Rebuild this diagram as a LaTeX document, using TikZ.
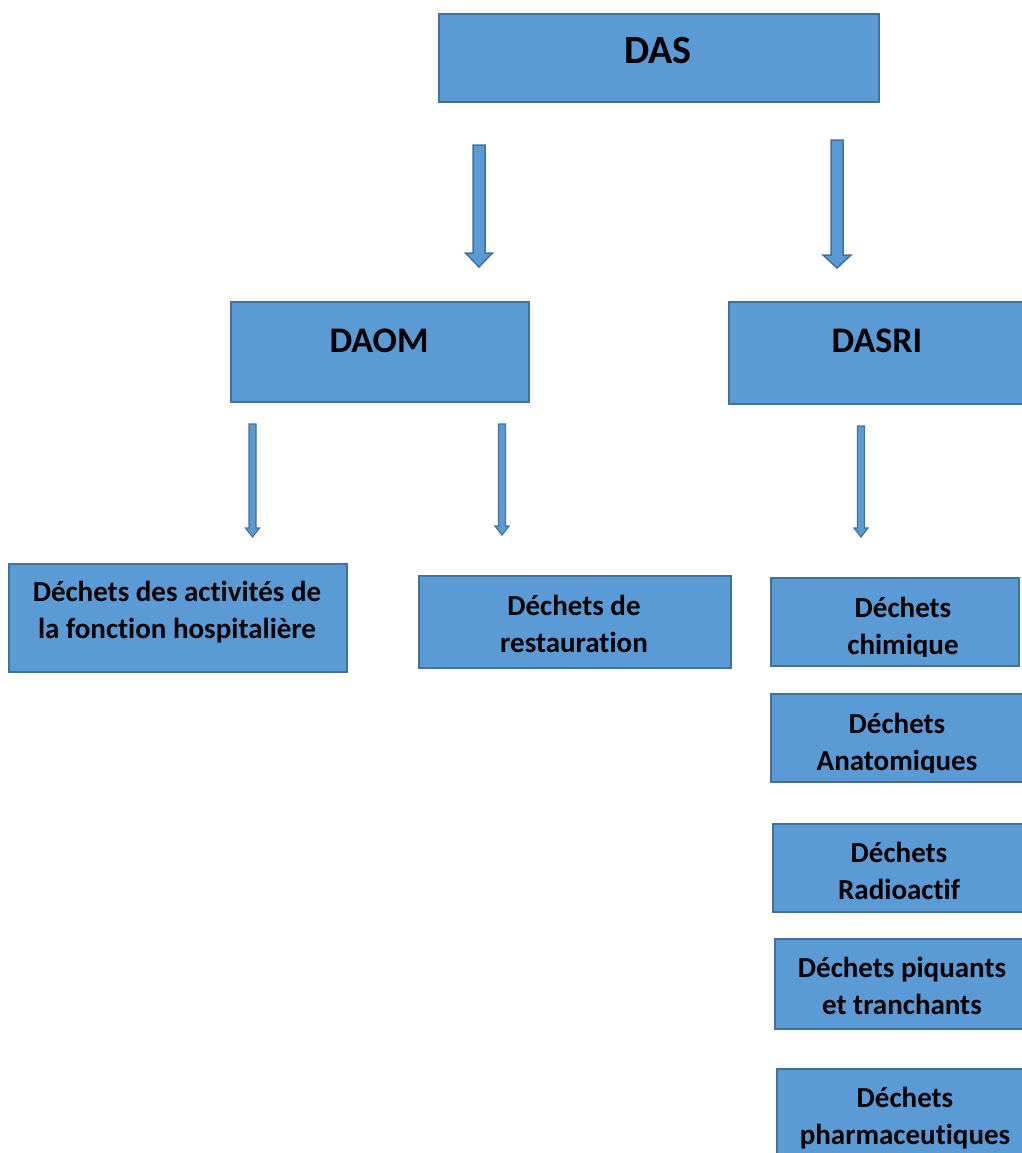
\documentclass[tikz,border=0pt]{standalone}
\usepackage{fontspec}
\setmainfont{Carlito}[Ligatures=NoCommon]
\usetikzlibrary{calc}
\definecolor{dasfill}{HTML}{5B9BD5}
\definecolor{dasline}{HTML}{41719C}
\def\blockarrow[#1](#2)(#3)(#4:#5:#6){\draw[#1] ($(#2)+(-#4,0)$) -- ($(#2)+(#4,0)$) -- ($(#3)+(#4,#6)$) -- ($(#3)+(#5,#6)$) -- (#3) -- ($(#3)+(-#5,#6)$) -- ($(#3)+(-#4,#6)$) -- cycle;}
\newcommand\itemstrut{\rule{0pt}{24pt}}
\tikzset{
	catbox/.style={draw=dasline, fill=dasfill, line width=2pt, inner sep=0pt, anchor=north west},
	bigtext/.style={font=\bfseries\fontsize{40}{48}\selectfont, anchor=base, inner sep=0pt},
	midtext/.style={font=\bfseries\fontsize{36}{44}\selectfont, anchor=base, inner sep=0pt},
	itemtext/.style={font=\bfseries\fontsize{29}{37}\selectfont, align=center, anchor=north, inner sep=0pt},
	blockline/.style={draw=dasline, fill=dasfill, line width=1.5pt, line join=miter},
	thinline/.style={blockline, line width=1.2pt},
}

\begin{document}
\begin{tikzpicture}[x=1pt, y=1pt]
		%%%%% START %%%%%
		\useasboundingbox (0,0) rectangle (1021,-1153);
		
		\node[catbox, minimum width=440, minimum height=88] (das) at (438,-13) {};
		\node[bigtext] (das-t) at (658,-64) {DAS};
		
		\node[catbox, minimum width=298, minimum height=100] (daom) at (230,-301) {};
		\node[midtext] (daom-t) at (379,-352) {DAOM};
		\node[catbox, minimum width=300, minimum height=102] (dasri) at (728,-301) {};
		\node[midtext] (dasri-t) at (877,-352) {DASRI};
		
		\coordinate (das-daom-tail) at (479,-145);
		\coordinate (das-daom-tip) at (479,-267);
		\blockarrow[blockline](das-daom-tail)(das-daom-tip)(6:13.5:14);
		\coordinate (das-dasri-tail) at (837,-140);
		\coordinate (das-dasri-tip) at (837,-268);
		\blockarrow[blockline](das-dasri-tail)(das-dasri-tip)(6:14:13);
		
		\node[catbox, minimum width=338, minimum height=108] (hosp) at (8,-563) {};
		\node[itemtext] (hosp-t) at (177,-577) {\itemstrut Déchets des activités de\\la fonction hospitalière};
		\node[catbox, minimum width=312, minimum height=92] (resto) at (418,-575) {};
		\node[itemtext] (resto-t) at (574,-591) {\itemstrut Déchets de\\restauration};
		
		\coordinate (daom-hosp-tail) at (252.5,-424);
		\coordinate (daom-hosp-tip) at (252.5,-537);
		\blockarrow[thinline](daom-hosp-tail)(daom-hosp-tip)(3.5:7:9);
		\coordinate (daom-resto-tail) at (502,-424);
		\coordinate (daom-resto-tip) at (502,-535);
		\blockarrow[thinline](daom-resto-tail)(daom-resto-tip)(3.5:7:9);
		\coordinate (dasri-chim-tail) at (861,-426);
		\coordinate (dasri-chim-tip) at (861,-537);
		\blockarrow[thinline](dasri-chim-tail)(dasri-chim-tip)(3.5:7:9);
		
		\node[catbox, minimum width=248, minimum height=88] (chim) at (770,-577) {};
		\begin{scope}
			\clip (chim.north west) rectangle ($(chim.south east)+(20,11)$);
			\node[itemtext] (chim-t) at (903,-593) {\itemstrut Déchets\\chimique};
		\end{scope}
		\node[catbox, minimum width=256, minimum height=88] (anat) at (770,-693) {};
		\begin{scope}
			\clip (anat.north west) rectangle ($(anat.south east)+(20,11)$);
			\node[itemtext] (anat-t) at (897,-709) {\itemstrut Déchets\\Anatomiques};
		\end{scope}
		\node[catbox, minimum width=256, minimum height=88] (radio) at (772,-823) {};
		\node[itemtext] (radio-t) at (899,-838) {\itemstrut Déchets\\Radioactif};
		\node[catbox, minimum width=258, minimum height=90] (piq) at (774,-938) {};
		\node[itemtext] (piq-t) at (902,-953) {\itemstrut Déchets piquants\\et tranchants};
		\node[catbox, minimum width=260, minimum height=90] (pharma) at (776,-1068) {};
		\node[itemtext] (pharma-t) at (905,-1083) {\itemstrut Déchets\\pharmaceutiques};
		
		%%%%% END %%%%%
\end{tikzpicture}
\end{document}
